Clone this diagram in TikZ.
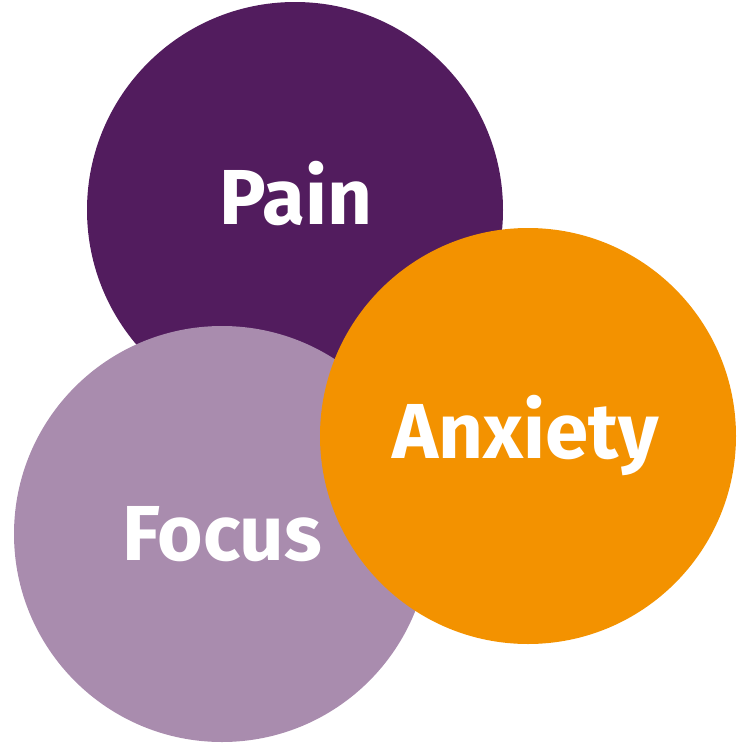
\documentclass[tikz,border=0pt]{standalone}
\usepackage{fontspec}
\setmainfont{Fira Sans}
\definecolor{painc}{HTML}{521C5E}
\definecolor{focusc}{HTML}{A98CAE}
\definecolor{anxc}{HTML}{F39200}
\begin{document}
\begin{tikzpicture}[
        x=1pt, y=-1pt,
        bubble/.style={circle, minimum size=416pt, inner sep=0pt}, % Стиль кругов
        word/.style={text=white, font=\fontsize{78}{78}\selectfont\bfseries},
    ]
    \useasboundingbox (0,0) rectangle (750,750);

    \node[bubble, fill=painc] (pain) at (295,210) {};
    \node[bubble, fill=focusc] (focus) at (222,534) {};
    \node[bubble, fill=anxc] (anxiety) at (528,436) {};

    \node[word] (painlabel) at (296,194) {Pain};
    \node[word] (focuslabel) at (222,534) {Focus};
    \node[word] (anxlabel) at (526,436) {Anxiety};
\end{tikzpicture}
\end{document}
